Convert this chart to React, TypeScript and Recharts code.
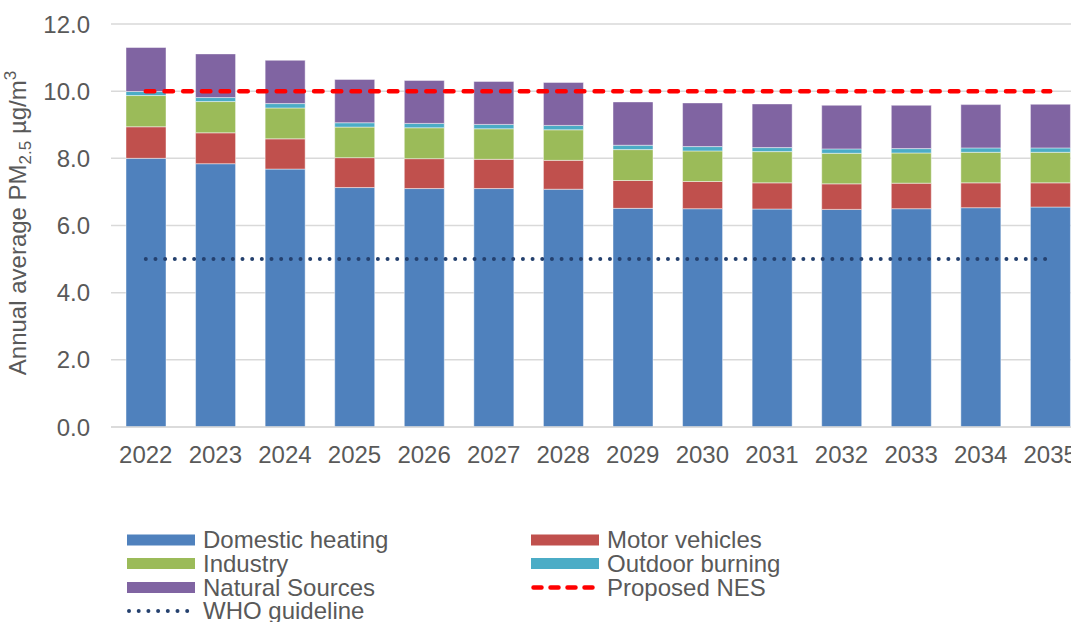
import React from 'react';
import { ComposedChart, Bar, Line, XAxis, YAxis, CartesianGrid, Legend } from 'recharts';

const years = ['2022', '2023', '2024', '2025', '2026', '2027', '2028', '2029', '2030', '2031', '2032', '2033', '2034', '2035'];
const domesticHeating = [8.0, 7.84, 7.68, 7.13, 7.1, 7.1, 7.08, 6.51, 6.5, 6.49, 6.48, 6.5, 6.53, 6.55];
const motorVehicles = [0.94, 0.92, 0.9, 0.89, 0.89, 0.87, 0.86, 0.83, 0.81, 0.78, 0.76, 0.76, 0.74, 0.72];
const industry = [0.93, 0.93, 0.92, 0.91, 0.92, 0.91, 0.91, 0.92, 0.91, 0.93, 0.91, 0.9, 0.91, 0.91];
const outdoorBurning = [0.12, 0.12, 0.13, 0.13, 0.13, 0.13, 0.13, 0.13, 0.13, 0.12, 0.13, 0.13, 0.13, 0.13];
const naturalSources = [1.31, 1.3, 1.29, 1.29, 1.28, 1.28, 1.28, 1.29, 1.3, 1.3, 1.3, 1.29, 1.29, 1.3];
const proposedNES = [10, 10, 10, 10, 10, 10, 10, 10, 10, 10, 10, 10, 10, 10];
const whoGuideline = [5, 5, 5, 5, 5, 5, 5, 5, 5, 5, 5, 5, 5, 5];
const yTicks = [0, 2, 4, 6, 8, 10, 12];

const data = years.map((year, i) => ({
  year,
  domestic: domesticHeating[i],
  motor: motorVehicles[i],
  industry: industry[i],
  outdoor: outdoorBurning[i],
  natural: naturalSources[i],
  nes: proposedNES[i],
  who: whoGuideline[i],
}));

const FONT = '"Liberation Sans", Arial, sans-serif';
const TEXT = '#595959';
const FS = 24;
const C = {
  domestic: '#4f81bd',
  motor: '#c0504d',
  industry: '#9bbb59',
  outdoor: '#4bacc6',
  natural: '#8064a2',
  nes: '#ff0000',
  who: '#24406e',
};

const YLabel = () => (
  <text
    x={26}
    y={223}
    transform="rotate(-90 26 223)"
    textAnchor="middle"
    fill={TEXT}
    fontSize={FS}
    fontFamily={FONT}
  >
    Annual average PM
    <tspan dy={5} fontSize={17}>2.5</tspan>
    <tspan dy={-5}> µg/m</tspan>
    <tspan dy={-10} fontSize={17}>3</tspan>
  </text>
);

const legendRows = [
  { left: { key: 'domestic', label: 'Domestic heating', type: 'rect' }, right: { key: 'motor', label: 'Motor vehicles', type: 'rect' } },
  { left: { key: 'industry', label: 'Industry', type: 'rect' }, right: { key: 'outdoor', label: 'Outdoor burning', type: 'rect' } },
  { left: { key: 'natural', label: 'Natural Sources', type: 'rect' }, right: { key: 'nes', label: 'Proposed NES', type: 'dash' } },
  { left: { key: 'who', label: 'WHO guideline', type: 'dot' }, right: null },
];

const LegendContent = () => {
  const rowCenters = [20, 43.5, 67.5, 91];
  const cols = [127, 531];
  const renderItem = (item: any, colX: number, cy: number, k: string) => {
    if (!item) return null;
    const color = (C as any)[item.key];
    let marker: any = null;
    if (item.type === 'rect') {
      marker = <rect x={colX} y={cy - 5.5} width={68} height={11} fill={color} />;
    } else if (item.type === 'dash') {
      marker = (
        <line x1={colX + 2.5} y1={cy} x2={colX + 66} y2={cy} stroke={color} strokeWidth={4.5} strokeLinecap="round" strokeDasharray="8 9" />
      );
    } else {
      marker = (
        <line x1={colX + 2} y1={cy} x2={colX + 61} y2={cy} stroke={color} strokeWidth={4} strokeLinecap="round" strokeDasharray="0 9.7" />
      );
    }
    return (
      <g key={k}>
        {marker}
        <text x={colX + 76} y={cy + 8} fill={TEXT} fontSize={FS} fontFamily={FONT}>
          {item.label}
        </text>
      </g>
    );
  };
  return (
    <svg width={1071} height={102} style={{ display: 'block' }}>
      {legendRows.map((row, i) => (
        <g key={i}>
          {renderItem(row.left, cols[0], rowCenters[i], 'l' + i)}
          {renderItem(row.right, cols[1], rowCenters[i], 'r' + i)}
        </g>
      ))}
    </svg>
  );
};

export default function App() {
  return (
    <div style={{ position: 'absolute', left: 0, top: 0, width: 1071, height: 622, overflow: 'hidden', background: '#ffffff' }}>
      <ComposedChart
        width={1100}
        height={622}
        data={data}
        margin={{ top: 24, right: 15, left: 0, bottom: 155 }}
        barCategoryGap={0}
      >
        <CartesianGrid horizontal vertical={false} stroke="#d9d9d9" strokeWidth={1.5} />
        <XAxis
          dataKey="year"
          height={40}
          tickLine={false}
          tickSize={6}
          tickMargin={13}
          axisLine={{ stroke: '#d9d9d9', strokeWidth: 1.5 }}
          tick={{ fill: TEXT, fontSize: FS, fontFamily: FONT }}
          interval={0}
        />
        <YAxis
          width={111}
          domain={[0, 12]}
          ticks={yTicks}
          tickFormatter={(v: number) => v.toFixed(1)}
          tickLine={false}
          axisLine={false}
          tickSize={6}
          tickMargin={15}
          tick={{ fill: TEXT, fontSize: FS, fontFamily: FONT }}
          label={<YLabel />}
        />
        <Bar dataKey="domestic" stackId="a" fill={C.domestic} barSize={40} stroke="#ffffff" strokeOpacity={0.45} strokeWidth={1} isAnimationActive={false} />
        <Bar dataKey="motor" stackId="a" fill={C.motor} barSize={40} stroke="#ffffff" strokeOpacity={0.45} strokeWidth={1} isAnimationActive={false} />
        <Bar dataKey="industry" stackId="a" fill={C.industry} barSize={40} stroke="#ffffff" strokeOpacity={0.45} strokeWidth={1} isAnimationActive={false} />
        <Bar dataKey="outdoor" stackId="a" fill={C.outdoor} barSize={40} stroke="#ffffff" strokeOpacity={0.45} strokeWidth={1} isAnimationActive={false} />
        <Bar dataKey="natural" stackId="a" fill={C.natural} barSize={40} stroke="#ffffff" strokeOpacity={0.45} strokeWidth={1} isAnimationActive={false} />
        <Line dataKey="nes" type="linear" stroke={C.nes} strokeWidth={4.5} strokeLinecap="round" strokeDasharray="8.5 10.2" dot={false} activeDot={false} isAnimationActive={false} />
        <Line dataKey="who" type="linear" stroke={C.who} strokeWidth={4} strokeLinecap="round" strokeDasharray="0 9.67" dot={false} activeDot={false} isAnimationActive={false} />
        <Legend
          layout="horizontal"
          verticalAlign="middle"
          align="center"
          content={<LegendContent />}
          wrapperStyle={{ position: 'absolute', left: 0, top: 520, width: 1071, height: 102 }}
        />
      </ComposedChart>
    </div>
  );
}
